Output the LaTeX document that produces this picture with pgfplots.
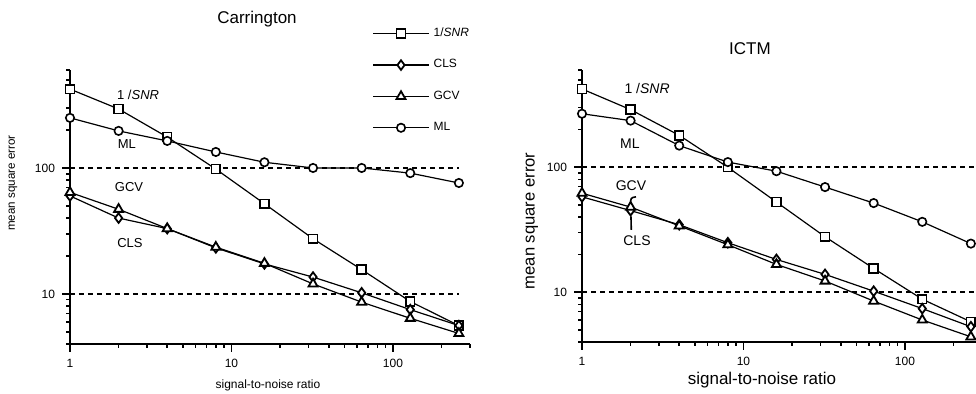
\documentclass[border=0pt]{standalone}
\usepackage{fontspec}
\setmainfont{Liberation Sans}
\usepackage{pgfplots}
\usepackage{pgfplotstable}
\pgfplotsset{compat=1.18}

\pgfplotstableread{
x snr cls gcv ml
1 423 60 64 250
2 294 40 47 197
4 176 33 33 164
8 98 23.2 23.5 134
16 52 17.3 17.5 111
32 27.4 13.6 12.0 100
64 15.6 10.2 8.6 100
128 8.7 7.5 6.4 91
256 5.6 5.6 4.85 76
}\carr

\pgfplotstableread{
x snr cls gcv ml
1 423 58 62 268
2 289 45 48 236
4 180 34.7 34 149
8 100 24.9 24 110
16 52.7 18.3 16.7 93
32 27.8 13.9 12.3 69.4
64 15.5 10.2 8.5 51.7
128 8.8 7.4 6.0 36.6
256 5.8 5.3 4.4 24.5
}\ictm

\begin{document}
\begin{tikzpicture}
\useasboundingbox (0,0) rectangle (488pt,197pt);

\begin{axis}[
  xmode=log, ymode=log, scale only axis,
  xmin=1, xmax=300, ymin=4, ymax=600,
  axis x line*=bottom, axis y line*=left,
  axis line style={line width=1pt},
  tick align=outside,
  xtick={1,10,100}, xticklabels={1,10,100},
  ytick={10,100}, yticklabels={10,100},
  minor xtick={2,3,4,5,6,7,8,9,20,30,40,50,60,70,80,90,200,300},
  minor ytick={4,5,6,7,8,9,20,30,40,50,60,70,80,90,200,300,400,500,600},
  major tick length=4pt, minor tick length=2pt,
  tick style={black, line width=0.8pt},
  clip=false,
  tick label style={font=\fontsize{6}{7}\selectfont},
  at={(35pt,25pt)}, anchor=south west, width=200pt, height=137pt,
  title={Carrington},
  title style={at={(axis description cs:0.4675,1.142)}, anchor=center, font=\fontsize{8.5}{10}\selectfont},
  xlabel={signal-to-noise ratio},
  xlabel style={at={(axis description cs:0.495,-0.15)}, anchor=center, font=\fontsize{6}{7}\selectfont},
  ylabel={mean square error},
  ylabel style={at={(axis description cs:-0.1425,0.587)}, anchor=center, font=\fontsize{5.8}{7}\selectfont},
  legend style={at={(axis description cs:0.74,1.185)}, anchor=north west, draw=none, fill=none,
    font=\fontsize{6}{7}\selectfont, row sep=6pt},
  legend cell align=left,
  legend image code/.code={\draw[mark repeat=2,mark phase=2,#1] plot coordinates {(0pt,0pt) (14pt,0pt) (28pt,0pt)};},
]
\addplot[black, line width=1pt, dash pattern=on 2.5pt off 2pt, forget plot] coordinates {(1,100) (256,100)};
\addplot[black, line width=1pt, dash pattern=on 2.5pt off 2pt, forget plot] coordinates {(1,10) (256,10)};
\addplot[black, line width=0.6pt, mark=square*, mark size=2.2pt, mark options={fill=white, line width=0.8pt, solid}] table[x=x,y=snr] {\carr};
\addlegendentry{1/\textit{SNR}}
\addplot[black, line width=0.6pt, mark=diamond*, mark size=2.4pt, mark options={fill=white, line width=0.9pt, solid}] table[x=x,y=cls] {\carr};
\addlegendentry{CLS}
\addplot[black, line width=0.6pt, mark=triangle*, mark size=2.6pt, mark options={fill=white, line width=0.9pt, solid}] table[x=x,y=gcv] {\carr};
\addlegendentry{GCV}
\addplot[black, line width=0.6pt, mark=*, mark size=2.1pt, mark options={fill=white, line width=0.8pt, solid}] table[x=x,y=ml] {\carr};
\addlegendentry{ML}
\node[font=\fontsize{6.5}{8}\selectfont] at (axis cs:2.64,380) {1 /\textit{SNR}};
\node[font=\fontsize{6.5}{8}\selectfont] at (axis cs:2.25,155) {ML};
\node[font=\fontsize{6.5}{8}\selectfont] at (axis cs:2.32,70.7) {GCV};
\node[font=\fontsize{6.5}{8}\selectfont] at (axis cs:2.35,25.4) {CLS};
\end{axis}

\begin{axis}[
  xmode=log, ymode=log, scale only axis,
  xmin=1, xmax=300, ymin=4, ymax=600,
  axis x line*=bottom, axis y line*=left,
  axis line style={line width=1pt},
  tick align=outside,
  xtick={1,10,100}, xticklabels={1,10,100},
  ytick={10,100}, yticklabels={10,100},
  minor xtick={2,3,4,5,6,7,8,9,20,30,40,50,60,70,80,90,200,300},
  minor ytick={4,5,6,7,8,9,20,30,40,50,60,70,80,90,200,300,400,500,600},
  major tick length=4pt, minor tick length=2pt,
  tick style={black, line width=0.8pt},
  clip=false,
  tick label style={font=\fontsize{6}{7}\selectfont},
  at={(291pt,26pt)}, anchor=south west, width=200pt, height=136pt,
  title={ICTM},
  title style={at={(axis description cs:0.42,1.034)}, anchor=center, font=\fontsize{8.5}{10}\selectfont},
  xlabel={signal-to-noise ratio},
  xlabel style={at={(axis description cs:0.45,-0.14)}, anchor=center, font=\fontsize{8.5}{10}\selectfont},
  ylabel={mean square error},
  ylabel style={at={(axis description cs:-0.125,0.445)}, anchor=center, font=\fontsize{8.3}{10}\selectfont},
]
\addplot[black, line width=1pt, dash pattern=on 2.5pt off 2pt, forget plot] coordinates {(1,100) (300,100)};
\addplot[black, line width=1pt, dash pattern=on 2.5pt off 2pt, forget plot] coordinates {(1,10) (300,10)};
\addplot[black, line width=0.6pt, mark=square*, mark size=2.2pt, mark options={fill=white, line width=0.8pt, solid}] table[x=x,y=snr] {\ictm};
\addplot[black, line width=0.6pt, mark=diamond*, mark size=2.4pt, mark options={fill=white, line width=0.9pt, solid}] table[x=x,y=cls] {\ictm};
\addplot[black, line width=0.6pt, mark=triangle*, mark size=2.6pt, mark options={fill=white, line width=0.9pt, solid}] table[x=x,y=gcv] {\ictm};
\addplot[black, line width=0.6pt, mark=*, mark size=2.1pt, mark options={fill=white, line width=0.8pt, solid}] table[x=x,y=ml] {\ictm};
\node[font=\fontsize{7}{8}\selectfont] at (axis cs:2.53,424) {1 /\textit{SNR}};
\node[font=\fontsize{7}{8}\selectfont] at (axis cs:1.98,155) {ML};
\node[font=\fontsize{7}{8}\selectfont] at (axis cs:2.01,70.7) {GCV};
\node[font=\fontsize{7}{8}\selectfont] at (axis cs:2.19,25.9) {CLS};
\draw[line width=0.8pt] (axis cs:2.16,58) .. controls (axis cs:2.0,57) .. (axis cs:2.0,50);
\draw[line width=0.8pt] (axis cs:2.01,40.5) -- (axis cs:2.02,31.5);
\end{axis}
\end{tikzpicture}
\end{document}
